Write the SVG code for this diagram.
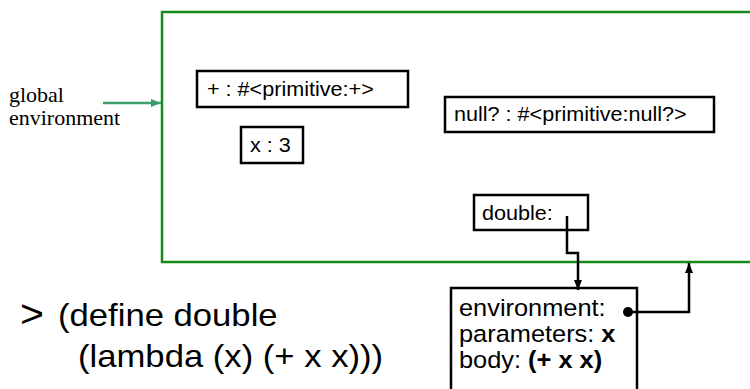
<svg xmlns="http://www.w3.org/2000/svg" width="750" height="389" viewBox="0 0 750 389">
<style>
.box{fill:#fff;stroke:#000;stroke-width:2.5}
.t{font-family:"Liberation Sans",Arial,sans-serif;fill:#000}
.serif{font-family:"Liberation Serif","Times New Roman",serif;fill:#000}
.wire{fill:none;stroke:#000;stroke-width:2.5}
</style>
<defs>
<marker id="ah" viewBox="0 0 10 10" refX="10" refY="5" markerWidth="4" markerHeight="4" orient="auto" markerUnits="strokeWidth">
<path d="M0,1 L10,5 L0,9 Z" fill="#000"/>
</marker>
<marker id="gah" viewBox="0 0 10 10" refX="10" refY="5" markerWidth="4" markerHeight="4" orient="auto" markerUnits="strokeWidth">
<path d="M0,1 L10,5 L0,9 Z" fill="#3a9e6a"/>
</marker>
</defs>
<rect width="750" height="389" fill="#fff"/>
<g id="global-env-frame">
<path d="M760,12 L162,12 L162,262 L760,262" fill="none" stroke="#178a17" stroke-width="2.5"/>
</g>
<g id="global-label">
<text class="serif" font-size="20" transform="translate(9,102) scale(1.1,1)">global</text>
<text class="serif" font-size="20" transform="translate(9,125) scale(1.1,1)">environment</text>
</g>
<g id="plus-binding">
<rect class="box" x="197" y="71" width="211" height="36"/>
<text class="t" font-size="20" transform="translate(207,96) scale(1.08,1)">+ : #&lt;primitive:+&gt;</text>
</g>
<g id="x-binding">
<rect class="box" x="241" y="127" width="62" height="36"/>
<text class="t" font-size="20" transform="translate(250,152) scale(1.08,1)">x : 3</text>
</g>
<g id="null-binding">
<rect class="box" x="445" y="97" width="269" height="35"/>
<text class="t" font-size="20" transform="translate(454,121) scale(1.08,1)">null? : #&lt;primitive:null?&gt;</text>
</g>
<g id="double-binding">
<rect class="box" x="474" y="195" width="114" height="35"/>
<text class="t" font-size="20" transform="translate(482,220) scale(1.08,1)">double:</text>
</g>
<g id="procedure">
<rect class="box" x="451" y="288" width="186" height="110"/>
<text class="t" font-size="23.5" transform="translate(459,316) scale(1.08,1)">environment:</text>
<text class="t" font-size="23.5" transform="translate(459,342) scale(1.08,1)">parameters: <tspan font-weight="bold">x</tspan></text>
<text class="t" font-size="23.5" transform="translate(459,368) scale(1.08,1)">body: <tspan font-weight="bold">(+ x x)</tspan></text>
<circle cx="628" cy="312" r="5" fill="#000"/>
</g>
<g id="define-expr">
<text class="t" font-size="38" transform="translate(20,327) scale(1.08,1)">&gt;</text>
<text class="t" font-size="31.5" transform="translate(58,326) scale(1.1,1)">(define double</text>
<text class="t" font-size="31.5" transform="translate(78,367) scale(1.1,1)">(lambda (x) (+ x x)))</text>
</g>
<g id="connectors">
<line x1="103" y1="103" x2="161" y2="103" stroke="#3a9e6a" stroke-width="2.5" marker-end="url(#gah)"/>
<path class="wire" d="M567,216 L567,253 L578,253 L578,290" marker-end="url(#ah)"/>
<path class="wire" d="M628,312 L689,312 L689,263" marker-end="url(#ah)"/>
</g>
</svg>
